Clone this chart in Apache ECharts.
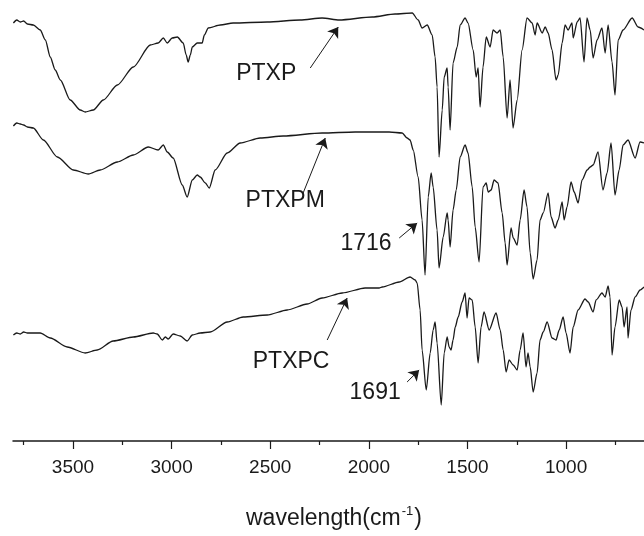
<!DOCTYPE html>
<html>
<head>
<meta charset="utf-8">
<script src="https://cdn.jsdelivr.net/npm/echarts@6/dist/echarts.min.js"></script>
<style>html,body{margin:0;padding:0;background:#fff}#c{width:644px;height:536px}</style>
</head>
<body>
<div id="c"></div>
<script>
// x: wavenumber (cm-1), y: transmittance (arbitrary, offset units)
const ptxp = [[3802,418],[3785,421],[3767,419],[3750,420],[3731,417],[3701,416],[3666,411],[3640,401],[3615,384],[3590,371],[3564,361],[3514,341],[3463,331],[3438,329],[3397,331],[3346,341],[3275,356],[3194,374],[3108,396],[3068,398],[3042,403],[3022,398],[2997,403],[2971,404],[2941,398],[2926,386],[2916,379],[2905,386],[2895,394],[2870,398],[2845,398],[2834,406],[2814,413],[2753,416],[2688,418],[2515,419],[2348,421],[2237,423],[2150,421],[1983,424],[1867,427],[1780,428],[1750,421],[1730,413],[1704,416],[1679,406],[1664,384],[1654,354],[1644,284],[1628,331],[1618,364],[1603,373],[1598,354],[1588,311],[1573,378],[1552,394],[1537,416],[1512,423],[1497,418],[1471,391],[1456,364],[1446,373],[1436,334],[1421,374],[1405,404],[1385,394],[1370,411],[1350,408],[1334,411],[1319,384],[1299,323],[1284,361],[1269,313],[1248,341],[1223,391],[1198,423],[1172,418],[1157,406],[1147,418],[1121,408],[1106,414],[1091,408],[1071,391],[1051,361],[1040,366],[1020,398],[1005,416],[990,411],[970,418],[964,403],[944,419],[929,423],[909,379],[894,423],[878,411],[863,383],[843,401],[818,413],[802,388],[787,416],[767,379],[752,346],[736,401],[711,411],[665,423],[635,414],[605,411]];
const ptxpm = [[3802,315],[3785,318],[3767,317],[3750,316],[3731,314],[3701,313],[3650,301],[3579,284],[3498,271],[3422,267],[3362,271],[3275,279],[3194,286],[3118,294],[3068,291],[3042,296],[3022,289],[2992,283],[2946,256],[2921,244],[2895,261],[2870,266],[2855,264],[2829,258],[2809,253],[2779,271],[2718,288],[2652,298],[2551,303],[2434,305],[2237,308],[2069,309],[1897,309],[1831,308],[1806,303],[1791,301],[1775,291],[1750,264],[1730,221],[1715,166],[1699,244],[1684,268],[1674,254],[1654,211],[1644,173],[1623,204],[1603,228],[1598,221],[1588,194],[1573,231],[1557,251],[1537,284],[1512,296],[1497,288],[1476,254],[1461,214],[1441,179],[1421,254],[1405,258],[1395,249],[1380,251],[1365,261],[1345,258],[1324,228],[1309,198],[1299,176],[1279,213],[1268,203],[1248,196],[1233,221],[1213,251],[1198,234],[1182,188],[1167,162],[1147,181],[1132,221],[1116,228],[1091,248],[1076,224],[1056,213],[1040,221],[1020,239],[1010,221],[995,234],[975,259],[959,249],[939,238],[919,261],[893,271],[878,274],[863,276],[838,289],[813,251],[792,268],[772,298],[752,246],[731,271],[711,296],[686,301],[650,283],[625,299],[605,298]];
const ptxpc = [[3802,106],[3785,108],[3767,107],[3750,109],[3731,108],[3666,108],[3615,103],[3529,94],[3438,88],[3377,91],[3296,100],[3194,104],[3093,108],[3073,107],[3047,101],[3032,104],[3017,102],[2992,107],[2956,105],[2921,100],[2895,106],[2855,108],[2804,109],[2718,119],[2637,124],[2515,126],[2414,131],[2313,137],[2237,143],[2135,148],[2019,153],[1948,153],[1932,154],[1846,159],[1791,164],[1765,161],[1755,158],[1740,131],[1730,91],[1709,51],[1689,88],[1674,111],[1664,119],[1654,98],[1633,36],[1618,88],[1603,104],[1593,94],[1583,91],[1573,101],[1562,114],[1547,124],[1527,139],[1512,148],[1502,123],[1492,143],[1476,141],[1461,114],[1446,78],[1431,114],[1416,129],[1390,111],[1355,128],[1334,111],[1319,91],[1304,69],[1289,81],[1268,76],[1248,71],[1233,91],[1218,108],[1203,74],[1193,88],[1182,74],[1167,49],[1147,68],[1132,101],[1116,109],[1096,119],[1071,103],[1051,101],[1035,111],[1015,124],[1000,108],[980,88],[964,114],[939,131],[904,142],[888,139],[863,129],[848,141],[818,148],[802,144],[787,155],[777,144],[767,86],[752,114],[731,141],[716,134],[706,114],[691,134],[686,103],[671,131],[650,144],[625,151],[605,154]];
const majorTicks = [1000,1500,2000,2500,3000,3500];
const minorTicks = [750,1250,1750,2250,2750,3250,3750];
// annotations: label text, text position, arrow start, arrow tip
const labelsPTXP  = {text:'PTXP',  at:[2520,367], from:[2297,373], to:[2155,414]};
const labelsPTXPM = {text:'PTXPM', at:[2424,240], from:[2333,248], to:[2221,303]};
const labelsPTXPC = {text:'PTXPC', at:[2394,79],  from:[2211,101], to:[2110,143]};
const peak1716    = {text:'1716',  at:[2014,197], from:[1846,203], to:[1755,218]};
const peak1691    = {text:'1691',  at:[1968,48],  from:[1806,59],  to:[1745,71]};

const FONT = '"Liberation Sans", Arial, sans-serif';
const INK = '#1a1a1a';

function annot(list){
  return {
    markLine: {
      silent: true, animation: false,
      symbol: ['none','arrow'], symbolSize: 10,
      label: {show:false},
      lineStyle: {color: INK, width: 1, type: 'solid'},
      emphasis: {disabled: true},
      data: list.map(a => [{coord: a.from}, {coord: a.to}])
    },
    markPoint: {
      silent: true, animation: false,
      symbol: 'circle', symbolSize: 0,
      label: {show: true, position: 'inside', color: INK, fontSize: 23, fontFamily: FONT, formatter: p => p.name},
      data: list.map(a => ({name: a.text, coord: a.at}))
    }
  };
}

function series(name, data, list){
  return Object.assign({
    name, type: 'line', data, showSymbol: false, symbol: 'none',
    smooth: 0.25, smoothMonotone: 'x',
    lineStyle: {color: INK, width: 1.3}, animation: false, silent: true,
    emphasis: {disabled: true}
  }, annot(list));
}

const chart = echarts.init(document.getElementById('c'), null, {renderer: 'canvas'});
const xBase = {type: 'value', min: 605, max: 3804, inverse: true, position: 'bottom', splitLine: {show: false}};
chart.setOption({
  backgroundColor: '#fff',
  animation: false,
  grid: {left: 13, right: 0, top: 0, bottom: 95, containLabel: false},
  xAxis: [
    Object.assign({}, xBase, {
      axisLine: {show: true, lineStyle: {color: INK, width: 1.5}},
      axisTick: {show: true, length: 8, customValues: majorTicks, lineStyle: {color: INK, width: 1.2}},
      axisLabel: {show: true, customValues: majorTicks, fontSize: 19, fontFamily: FONT, color: INK, margin: 17,
                  formatter: v => String(v)}
    }),
    Object.assign({}, xBase, {
      axisLine: {show: false},
      axisTick: {show: true, length: 4, customValues: minorTicks, lineStyle: {color: INK, width: 1.2}},
      axisLabel: {show: false}
    })
  ],
  yAxis: {type: 'value', min: 0, max: 441, show: false},
  series: [
    series('PTXP', ptxp, [labelsPTXP]),
    series('PTXPM', ptxpm, [labelsPTXPM, peak1716]),
    series('PTXPC', ptxpc, [labelsPTXPC, peak1691])
  ],
  graphic: [{
    type: 'text', left: 246, top: 505,
    style: {
      text: '{a|wavelength(cm}{b|-1}{a|)}',
      rich: {
        a: {fontSize: 23, fontFamily: FONT, fill: INK, verticalAlign: 'bottom'},
        b: {fontSize: 13, fontFamily: FONT, fill: INK, verticalAlign: 'top', padding: [0, 1, 12, 1]}
      }
    }
  }]
});
</script>
</body>
</html>
